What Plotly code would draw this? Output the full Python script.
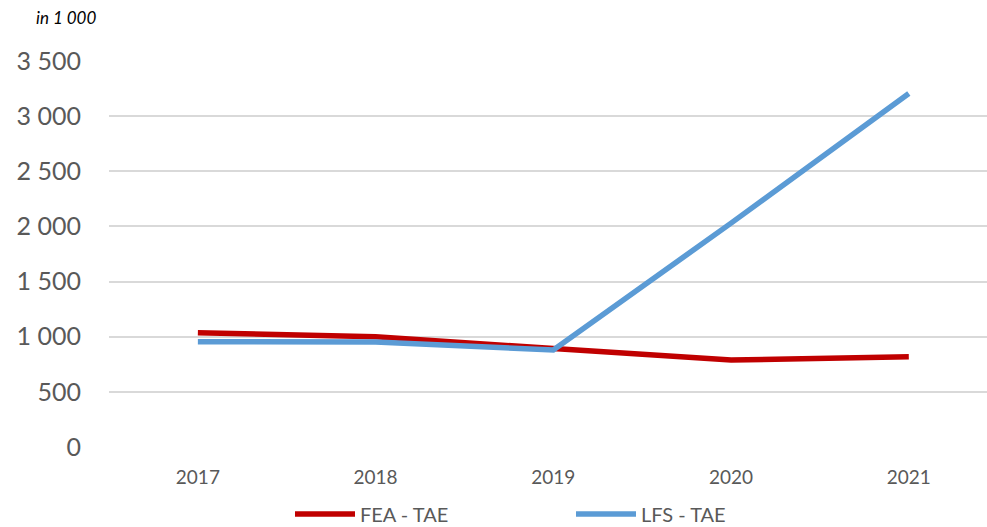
import plotly.graph_objects as go

years = ["2017", "2018", "2019", "2020", "2021"]
fea_tae = [1035, 1000, 893, 789, 818]
lfs_tae = [955, 952, 880, 2030, 3205]
y_ticks = [0, 500, 1000, 1500, 2000, 2500, 3000, 3500]
y_tick_labels = ["0", "500", "1 000", "1 500", "2 000", "2 500", "3 000", "3 500"]

W, H = 987, 527
left, right, top, bottom = 109, 0, 61, 80

fig = go.Figure()
fig.add_trace(go.Scatter(x=list(range(len(years))), y=fea_tae, mode="lines", name="FEA - TAE",
                         line=dict(color="#C00000", width=5.5)))
fig.add_trace(go.Scatter(x=list(range(len(years))), y=lfs_tae, mode="lines", name="LFS - TAE",
                         line=dict(color="#5B9BD5", width=5.5)))

fig.update_layout(
    width=W, height=H,
    margin=dict(l=left, r=right, t=top, b=bottom, autoexpand=False),
    paper_bgcolor="white", plot_bgcolor="white",
    font=dict(family="Lato, Open Sans, sans-serif", color="#595959"),
    showlegend=True,
    legend=dict(orientation="h", xref="container", yref="container", x=290 / W, y=13 / H,
                xanchor="left", yanchor="middle", font=dict(size=20, color="#595959"),
                entrywidth=206, entrywidthmode="pixels", itemwidth=60, bgcolor="rgba(0,0,0,0)"),
    annotations=[dict(text="<i>in 1 000</i>", xref="paper", yref="paper", x=-0.085, y=1.113,
                      xanchor="left", yanchor="middle", showarrow=False,
                      font=dict(size=17, color="#000000"))],
)
fig.update_xaxes(range=[-0.5, 4.44], tickvals=list(range(len(years))), ticktext=years,
                 showgrid=False, zeroline=False, showline=False, ticks="",
                 tickfont=dict(size=19, color="#595959"), ticklabelstandoff=17, fixedrange=True)
fig.update_yaxes(range=[0, 3500], tickvals=y_ticks, ticktext=y_tick_labels,
                 showgrid=True, gridcolor="#D9D9D9", gridwidth=2, zeroline=False, showline=False,
                 ticks="", tickfont=dict(size=25, color="#595959"), ticklabelstandoff=27,
                 fixedrange=True)

fig.write_html("out.html")
